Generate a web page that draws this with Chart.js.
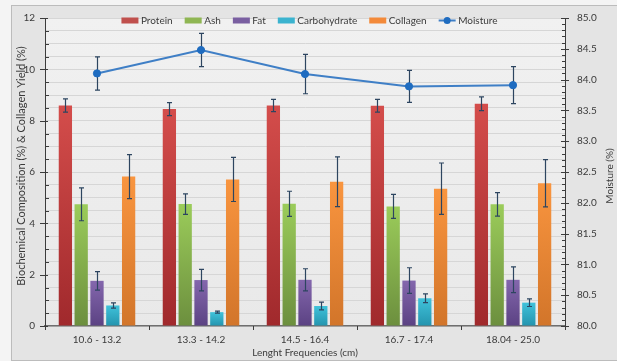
<!DOCTYPE html>
<html>
<head>
<meta charset="utf-8">
<script src="https://cdn.jsdelivr.net/npm/chart.js@4/dist/chart.umd.min.js"></script>
<style>
  html, body { margin: 0; padding: 0; background: #f4f4f4; }
  #wrap { position: relative; width: 617px; height: 361px; }
</style>
</head>
<body>
<div id="wrap"><canvas id="c" width="617" height="361"></canvas></div>
<script>
// Length classes (cm)
const categories = ['10.6 - 13.2', '13.3 - 14.2', '14.5 - 16.4', '16.7 - 17.4', '18.04 - 25.0'];

// Biochemical composition (%) and collagen yield (%), mean and SD
const protein     = [8.59, 8.45, 8.59, 8.58, 8.66];
const proteinSd   = [0.26, 0.25, 0.24, 0.25, 0.27];
const ash         = [4.74, 4.75, 4.76, 4.66, 4.74];
const ashSd       = [0.64, 0.40, 0.49, 0.47, 0.46];
const fat         = [1.76, 1.79, 1.80, 1.77, 1.80];
const fatSd       = [0.36, 0.42, 0.43, 0.50, 0.50];
const carbohydrate   = [0.80, 0.54, 0.78, 1.08, 0.91];
const carbohydrateSd = [0.10, 0.04, 0.15, 0.17, 0.15];
const collagen    = [5.82, 5.71, 5.62, 5.35, 5.56];
const collagenSd  = [0.86, 0.86, 0.97, 1.00, 0.92];

// Moisture (%) on the right axis
const moisture    = [84.10, 84.48, 84.09, 83.89, 83.91];
const moistureSd  = [0.27, 0.27, 0.32, 0.26, 0.30];

// Axis tick labels
const leftTickLabels  = ['0', '2', '4', '6', '8', '10', '12'];
const rightTickLabels = ['80.0', '80.5', '81.0', '81.5', '82.0', '82.5', '83.0', '83.5', '84.0', '84.5', '85.0'];

const FONT = "Lato, 'Liberation Sans', sans-serif";
const FONT_SIZE = 10;
const TEXT = '#3a3a3a';
Chart.defaults.font.family = FONT;
Chart.defaults.font.size = FONT_SIZE;
Chart.defaults.color = TEXT;

// Vertical gradient for each bar, from its top down to the baseline
function barFill(top, bottom) {
  return (ctx) => {
    const chart = ctx.chart;
    if (!chart.chartArea || ctx.type !== 'data') return top;
    const ys = chart.scales.y;
    const y0 = ys.getPixelForValue(ctx.raw);
    const y1 = ys.getPixelForValue(0);
    const g = chart.ctx.createLinearGradient(0, y0, 0, y1);
    g.addColorStop(0, top);
    g.addColorStop(1, bottom);
    return g;
  };
}

function barSet(label, data, sd, top, bottom, swatch) {
  return {
    type: 'bar', label, data, errors: sd, yAxisID: 'y', order: 1,
    backgroundColor: barFill(top, bottom), swatch,
    borderWidth: 0,
    categoryPercentage: 0.76, barPercentage: 0.84
  };
}

// Background: outer frame and shaded plot area
const panel = {
  id: 'panel',
  beforeDraw(chart) {
    const { ctx, chartArea: a } = chart;
    ctx.save();
    ctx.fillStyle = '#f4f4f4';
    ctx.fillRect(0, 0, chart.width, chart.height);
    ctx.fillStyle = '#e4e4e4';
    ctx.fillRect(11, 5, 606, 356);
    ctx.strokeStyle = '#bcbcbc';
    ctx.lineWidth = 1;
    ctx.strokeRect(11.5, 5.5, 610, 355);
    const g = ctx.createLinearGradient(0, a.top, 0, a.bottom);
    g.addColorStop(0, '#f1f1f1');
    g.addColorStop(1, '#e9e9e9');
    ctx.fillStyle = g;
    ctx.fillRect(a.left, a.top, a.right - a.left, a.bottom - a.top);
    ctx.restore();
  }
};

// Error bars drawn from each dataset's SD values
function drawErrors(chart, index) {
  const ds = chart.data.datasets[index];
  if (!ds.errors) return;
  const meta = chart.getDatasetMeta(index);
  const sc = chart.scales[ds.yAxisID];
  const ctx = chart.ctx;
  ctx.save();
  ctx.strokeStyle = '#2d4560';
  ctx.lineWidth = 1.2;
  meta.data.forEach((el, i) => {
    const v = ds.data[i], e = ds.errors[i];
    const t = sc.getPixelForValue(v + e), b = sc.getPixelForValue(v - e);
    const x = Math.round(el.x) + 0.5;
    ctx.beginPath();
    ctx.moveTo(x, t); ctx.lineTo(x, b);
    ctx.moveTo(x - 2.5, t); ctx.lineTo(x + 2.5, t);
    ctx.moveTo(x - 2.5, b); ctx.lineTo(x + 2.5, b);
    ctx.stroke();
  });
  ctx.restore();
}
const errorBars = {
  id: 'errorBars',
  beforeDatasetDraw(chart, args) {
    if (chart.data.datasets[args.index].type === 'line') drawErrors(chart, args.index);
  },
  afterDatasetDraw(chart, args) {
    if (chart.data.datasets[args.index].type !== 'line') drawErrors(chart, args.index);
  }
};

// Major and minor tick marks on the three axes
const axisMarks = {
  id: 'axisMarks',
  afterDraw(chart) {
    const { ctx, chartArea: a, scales: { x, y, y2 } } = chart;
    ctx.save();
    ctx.strokeStyle = '#3c3c3c';
    ctx.lineWidth = 1;
    ctx.beginPath();
    y.ticks.forEach(t => {
      const p = Math.round(y.getPixelForValue(t.value)) + 0.5;
      if (leftTickLabels.includes(String(t.value))) { ctx.moveTo(a.left - 5, p); ctx.lineTo(a.left + 3, p); }
      else { ctx.moveTo(a.left, p); ctx.lineTo(a.left + 4, p); }
    });
    y2.ticks.forEach(t => {
      const p = Math.round(y2.getPixelForValue(t.value)) + 0.5;
      if (rightTickLabels.includes(t.value.toFixed(1)) && Math.abs(t.value * 2 - Math.round(t.value * 2)) < 1e-6) {
        ctx.moveTo(a.right - 4, p); ctx.lineTo(a.right + 4, p);
      } else { ctx.moveTo(a.right - 3, p); ctx.lineTo(a.right, p); }
    });
    for (let i = 0; i <= categories.length; i++) {
      const p = Math.round(x.getPixelForValue(i - 0.5)) + 0.5;
      ctx.moveTo(p, a.bottom); ctx.lineTo(p, a.bottom + 4);
    }
    ctx.stroke();
    ctx.restore();
  }
};

// Axis titles, both reading bottom to top
const axisTitles = {
  id: 'axisTitles',
  afterDraw(chart) {
    const ctx = chart.ctx;
    ctx.save();
    ctx.fillStyle = TEXT;
    ctx.textAlign = 'center';
    ctx.textBaseline = 'middle';
    [[21.5, 166, 11, 'Biochemical Composition (%) & Collagen Yield (%)'], [610, 176, 10, 'Moisture (%)']].forEach(([cx, cy, size, s]) => {
      ctx.save();
      ctx.font = size + 'px ' + FONT;
      ctx.translate(cx, cy);
      ctx.rotate(-Math.PI / 2);
      ctx.fillText(s, 0, 0);
      ctx.restore();
    });
    ctx.restore();
  }
};

// One-row legend across the top of the plot
const legendRow = {
  id: 'legendRow',
  afterDraw(chart) {
    const ctx = chart.ctx;
    ctx.save();
    ctx.font = FONT_SIZE + 'px ' + FONT;
    ctx.textBaseline = 'middle';
    ctx.textAlign = 'left';
    const sw = 17, gapText = 2.5, gapItem = 12, yc = 20.5;
    const items = chart.data.datasets.map(ds => ({ label: ds.label, color: ds.swatch, line: ds.type === 'line' }));
    const widths = items.map(it => sw + gapText + ctx.measureText(it.label).width);
    const total = widths.reduce((s, w) => s + w, 0) + gapItem * (items.length - 1);
    let x = 309.5 - total / 2;
    items.forEach((it, i) => {
      if (it.line) {
        ctx.strokeStyle = it.color; ctx.lineWidth = 2;
        ctx.beginPath(); ctx.moveTo(x, yc); ctx.lineTo(x + sw, yc); ctx.stroke();
        ctx.fillStyle = '#1f6cc0';
        ctx.beginPath(); ctx.arc(x + sw / 2, yc, 3.5, 0, Math.PI * 2); ctx.fill();
      } else {
        ctx.fillStyle = it.color;
        ctx.fillRect(x, yc - 3, sw, 6);
      }
      ctx.fillStyle = TEXT;
      ctx.fillText(it.label, x + sw + gapText, yc);
      x += widths[i] + gapItem;
    });
    ctx.restore();
  }
};

new Chart(document.getElementById('c'), {
  data: {
    labels: categories,
    datasets: [
      barSet('Protein', protein, proteinSd, '#d44d4b', '#a0292c', '#c0504d'),
      barSet('Ash', ash, ashSd, '#9bcc5a', '#6c8f3e', '#8fb653'),
      barSet('Fat', fat, fatSd, '#8467ad', '#5b4283', '#7a5fa1'),
      barSet('Carbohydrate', carbohydrate, carbohydrateSd, '#40c2da', '#2494ae', '#3bb3cf'),
      barSet('Collagen', collagen, collagenSd, '#f9953f', '#d2752a', '#f38a3a'),
      {
        type: 'line', label: 'Moisture', data: moisture, errors: moistureSd, yAxisID: 'y2', order: 0,
        borderColor: '#3f7fc6', borderWidth: 2, tension: 0, swatch: '#3f7fc6',
        pointRadius: 3.6, pointBackgroundColor: '#1f6cc0', pointBorderColor: '#1f6cc0', pointBorderWidth: 1
      }
    ]
  },
  options: {
    responsive: false,
    animation: false,
    devicePixelRatio: 1,
    layout: { padding: { top: 13, left: 0, right: 0, bottom: 0 } },
    plugins: { legend: { display: false }, tooltip: { enabled: false } },
    scales: {
      x: {
        type: 'category',
        offset: true,
        grid: { display: false, drawTicks: false },
        border: { display: true, color: '#6f6f6f', width: 1.5 },
        ticks: { padding: 8, color: TEXT, font: { size: FONT_SIZE } },
        title: { display: true, text: 'Lenght Frequencies (cm)', color: TEXT, font: { size: FONT_SIZE }, padding: { top: 0, bottom: 2.5 } },
        afterFit(s) { s.height = 35; }
      },
      y: {
        position: 'left',
        min: 0, max: 12,
        grid: { color: '#d6d6d6', lineWidth: 1, drawTicks: false },
        border: { display: true, color: '#3c3c3c', width: 1 },
        ticks: {
          stepSize: 0.5, autoSkip: false, padding: 10, color: TEXT,
          callback: (v) => leftTickLabels.includes(String(v)) ? String(v) : ''
        },
        afterFit(s) { s.width = 45; }
      },
      y2: {
        position: 'right',
        min: 80, max: 85,
        grid: { drawOnChartArea: false, drawTicks: false },
        border: { display: true, color: '#3c3c3c', width: 1 },
        ticks: {
          stepSize: 0.1, autoSkip: false, padding: 12, color: TEXT,
          callback: (v) => {
            const s = Number(v).toFixed(1);
            return (Math.abs(v * 2 - Math.round(v * 2)) < 1e-6 && rightTickLabels.includes(s)) ? s : '';
          }
        },
        afterFit(s) { s.width = 52; }
      }
    }
  },
  plugins: [panel, errorBars, axisMarks, axisTitles, legendRow]
});
</script>
</body>
</html>
